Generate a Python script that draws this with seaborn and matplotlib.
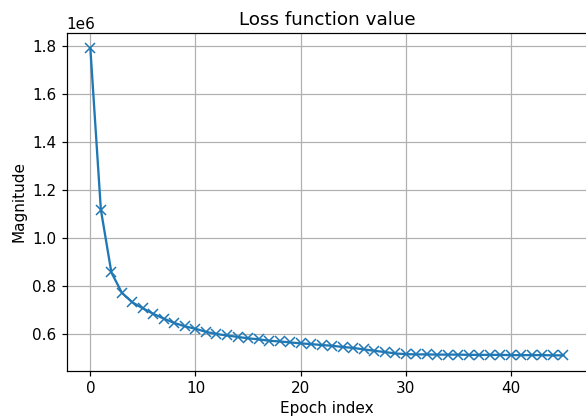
import matplotlib
matplotlib.use("Agg")
import matplotlib.pyplot as plt
import seaborn as sns
import numpy as np
import pandas as pd

epochs = list(range(46))
loss = [1.790e6, 1.117e6, 0.855e6, 0.770e6, 0.730e6, 0.705e6, 0.682e6, 0.662e6,
        0.644e6, 0.630e6, 0.620e6, 0.607e6, 0.598e6, 0.592e6, 0.586e6, 0.580e6,
        0.576e6, 0.570e6, 0.567e6, 0.563e6, 0.559e6, 0.556e6, 0.552e6, 0.549e6,
        0.544e6, 0.540e6, 0.534e6, 0.528e6, 0.523e6, 0.517e6, 0.514e6, 0.513e6,
        0.513e6, 0.512e6, 0.512e6, 0.512e6, 0.511e6, 0.511e6, 0.511e6, 0.511e6,
        0.510e6, 0.510e6, 0.510e6, 0.510e6, 0.509e6, 0.509e6]

df = pd.DataFrame({"epoch": epochs, "loss": loss})

s = 1.1
plt.rcParams.update({
    "font.size": 10 * s,
    "xtick.major.size": 3.5 * s,
    "ytick.major.size": 3.5 * s,
    "xtick.major.width": 0.8 * s,
    "ytick.major.width": 0.8 * s,
    "axes.linewidth": 0.8 * s,
})

fig = plt.figure(figsize=(5.86, 4.17), dpi=100)
ax = fig.add_axes([66.7 / 586, 1 - 370.7 / 417, (587 - 66.7) / 586, (370.7 - 33) / 417])
sns.lineplot(data=df, x="epoch", y="loss", ax=ax, color="#1f77b4", marker="x",
             markersize=6 * s * 1.15, markeredgecolor="#1f77b4", markeredgewidth=1.0 * s,
             linewidth=1.5 * s)
ax.grid(True, color="#b0b0b0", linewidth=0.8 * s)
ax.spines["right"].set_visible(False)
ax.set_title("Loss function value", fontsize=12 * s)
ax.set_xlabel("Epoch index", fontsize=10 * s)
ax.set_ylabel("Magnitude", fontsize=10 * s)
ax.set_xticks([0, 10, 20, 30, 40])
ax.set_yticks([0.6e6, 0.8e6, 1.0e6, 1.2e6, 1.4e6, 1.6e6, 1.8e6])
ax.tick_params(labelsize=10 * s)
ax.yaxis.get_offset_text().set_fontsize(10 * s)
ax.margins(x=0.05, y=0.05)
fig.savefig("out.png", dpi=100)
